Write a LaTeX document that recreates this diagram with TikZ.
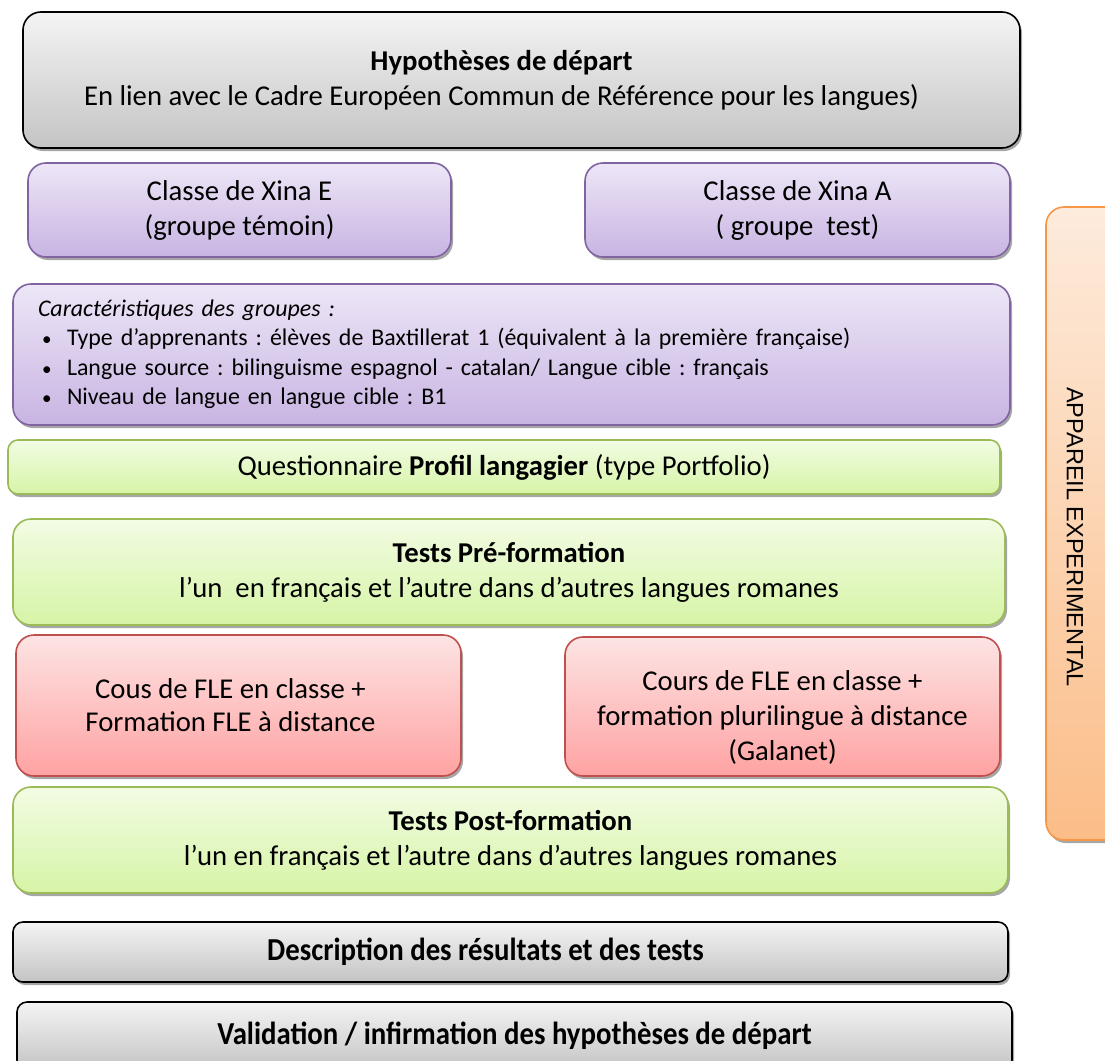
\documentclass[tikz,border=0pt]{standalone}
\usepackage{fontspec}
\setmainfont{Carlito}
\newfontfamily\arialfont{Liberation Sans}
\usetikzlibrary{shadows}
\frenchspacing

\definecolor{grisH}{HTML}{F4F4F4}
\definecolor{grisB}{HTML}{C4C4C4}
\definecolor{violetH}{HTML}{EDE6F7}
\definecolor{violetB}{HTML}{C8B4E2}
\definecolor{violetT}{HTML}{8064A2}
\definecolor{vertH}{HTML}{F2FCE4}
\definecolor{vertB}{HTML}{D6F4A6}
\definecolor{vertT}{HTML}{9BBB59}
\definecolor{rougeH}{HTML}{FDE4E4}
\definecolor{rougeB}{HTML}{FFA2A2}
\definecolor{rougeT}{HTML}{C0504D}
\definecolor{orangeH}{HTML}{FDEBDC}
\definecolor{orangeB}{HTML}{FBBD88}
\definecolor{orangeT}{HTML}{F79646}

\newcommand{\puce}{\hspace*{4pt}\makebox[25pt][l]{\scalebox{.8}{\textbullet}}}

\tikzset{
  boite/.style={rectangle, rounded corners=18pt, inner sep=0pt, align=center,
    line width=1.6pt, font=\fontsize{28.7}{35}\selectfont,
    drop shadow={shadow xshift=2pt, shadow yshift=-3pt, opacity=.35, fill=black}},
  gris/.style={boite, draw=black, top color=grisH, bottom color=grisB},
  violet/.style={boite, draw=violetT, top color=violetH, bottom color=violetB},
  vert/.style={boite, draw=vertT, top color=vertH, bottom color=vertB},
  rouge/.style={boite, draw=rougeT, top color=rougeH, bottom color=rougeB},
  orange/.style={boite, draw=orangeT, top color=orangeH, bottom color=orangeB},
  petit/.style={rounded corners=10pt},
  etroit/.style={font=\fontsize{32}{36}\selectfont},
}

\begin{document}
\begin{tikzpicture}[x=1pt, y=-1pt]

	\useasboundingbox (0,0) rectangle (1105,1060);

	\node[gris, minimum width=997pt, minimum height=136pt] (hyp) at (521.5, 80)
		{\textbf{Hypothèses de départ}\hspace*{40pt}\\ En lien avec le Cadre Européen Commun de Référence pour les langues)\hspace*{40pt}};

	\node[violet, minimum width=423pt, minimum height=94pt] (xinaE) at (239.5, 210)
		{Classe de Xina E\\ (groupe témoin)};
	\node[violet, minimum width=425pt, minimum height=94pt] (xinaA) at (797.5, 210)
		{Classe de Xina A\\ ( groupe~~test)};

	\node[violet, minimum width=997pt, minimum height=141pt, text width=947pt, align=left,
		font=\fontsize{23.9}{29.5}\selectfont] (carac) at (511.5, 354.5)
		{\textit{Caractéristiques des groupes :}\\
		 \puce Type d’apprenants : élèves de Baxtillerat 1 (équivalent à la première française)\\
		 \puce Langue source : bilinguisme espagnol - catalan/ Langue cible : français\\
		 \puce Niveau de langue en langue cible : B1};

	\node[vert, petit, minimum width=992pt, minimum height=54pt] (quest) at (504, 467)
		{Questionnaire \textbf{Profil langagier} (type Portfolio)};

	\node[vert, minimum width=992pt, minimum height=106pt] (pre) at (509, 572)
		{\textbf{Tests Pré-formation}\\ l’un~~en français et l’autre dans d’autres langues romanes};

	\node[rouge, minimum width=445pt, minimum height=141pt] (coursE) at (238.5, 705.5)
		{Cous de FLE en classe +\hspace*{16pt}\\[-2pt] Formation FLE à distance\hspace*{16pt}};
	\node[rouge, minimum width=435pt, minimum height=139pt] (coursA) at (782.5, 706.5)
		{\\[6pt]Cours de FLE en classe +\\ formation plurilingue à distance\\ (Galanet)};

	\node[vert, minimum width=995pt, minimum height=106pt] (post) at (510.5, 840)
		{\textbf{Tests Post-formation}\\ l’un en français et l’autre dans d’autres langues romanes};

	\node[gris, petit, etroit, minimum width=995pt, minimum height=60pt] (descr) at (510.5, 952)
		{\scalebox{.9}[1]{\textbf{Description des résultats et des tests}}\hspace*{50pt}};
	\node[gris, petit, etroit, minimum width=995pt, minimum height=68pt] (valid) at (514.5, 1036)
		{\scalebox{.9}[1]{\textbf{Validation / infirmation des hypothèses de départ}}};

	% bandeau vertical a droite
	\node[orange, minimum width=90pt, minimum height=633pt] (exp) at (1091, 523.5) {};
	\node[rotate=-90, font=\arialfont\fontsize{23.5}{26}\selectfont] (appareil) at (1075, 537)
		{APPAREIL EXPERIMENTAL};

\end{tikzpicture}
\end{document}
